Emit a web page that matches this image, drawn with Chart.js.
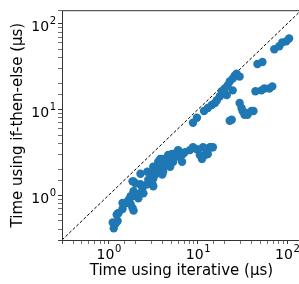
<!DOCTYPE html>
<html>
<head>
<meta charset="utf-8">
<script src="https://cdn.jsdelivr.net/npm/chart.js@4.4.1/dist/chart.umd.min.js"></script>
<style>
	html, body { margin: 0; padding: 0; background: #fff; overflow: hidden; }
	#wrap { width: 305px; height: 284px; }
</style>
</head>
<body>
<div id="wrap"><canvas id="timeChart" width="305" height="284"></canvas></div>
<script>
// Timings (microseconds)
const iterTimes = [
	1.14, 1.20, 1.11, 1.26, 1.23, 1.29, 1.43, 1.47, 1.59, 1.76, 1.85, 1.90,
	1.67, 1.85, 1.90, 2.10, 2.15, 2.27, 2.39, 2.45, 2.71, 2.78, 3.08, 3.16,
	3.33, 3.50, 3.16, 3.59, 3.98, 3.78, 4.08, 4.52, 4.30, 4.64, 5.14, 5.55,
	5.84, 6.31, 5.28, 4.89, 6.64, 6.00, 6.81, 7.17, 4.89, 1.90, 2.00, 3.08,
	3.16, 2.27, 3.98, 4.08, 8.15, 8.80, 9.75, 10.5, 11.1, 12.0, 12.6, 13.6,
	14.7, 12.9, 1.26, 1.43, 1.76, 1.85, 2.27, 2.71, 3.78, 4.89, 6.31, 11.4,
	14.3,
	8.80, 9.75, 22.7, 23.9, 11.7, 12.9, 14.3, 15.5, 16.3, 17.6, 19.0, 21.0,
	18.5, 20.0, 21.5, 22.7, 24.5, 25.8, 27.1, 29.3, 24.5, 29.3, 30.8, 31.6,
	33.3, 35.9, 39.8, 41.9, 35.0, 44.1, 51.4, 55.5, 63.1, 68.1, 46.4, 52.8,
	71.7, 81.5, 88.0, 97.5, 105
];
const ifElseTimes = [
	0.41, 0.47, 0.48, 0.50, 0.59, 0.62, 0.69, 0.79, 0.81, 0.79, 0.71, 0.66,
	0.88, 0.97, 1.11, 1.03, 0.92, 1.05, 1.20, 1.05, 1.34, 1.52, 1.37, 1.56,
	1.74, 1.98, 2.15, 2.45, 2.65, 2.26, 2.04, 2.26, 2.58, 2.94, 3.02, 2.79,
	3.18, 2.79, 2.45, 2.15, 2.45, 3.36, 3.02, 3.18, 2.58, 1.45, 1.37, 1.78,
	1.27, 1.34, 1.74, 1.88, 3.36, 3.63, 3.44, 2.94, 2.65, 2.94, 3.44, 3.63,
	3.63, 3.02, 0.61, 0.81, 0.97, 1.45, 1.78, 1.88, 2.65, 2.94, 3.02, 3.63,
	3.63,
	7.01, 8.00, 7.39, 7.59, 9.61, 10.4, 11.3, 11.9, 12.8, 14.3, 15.4, 14.7,
	16.3, 17.6, 19.1, 21.2, 22.9, 24.8, 26.1, 24.2, 16.7, 11.9, 10.4, 9.61,
	8.65, 8.65, 9.61, 9.61, 9.12, 16.3, 16.7, 17.6, 17.6, 18.6, 34.0, 35.8,
	50.5, 54.6, 60.7, 62.3, 67.4
];
// y = x reference line end points
const diagLine = [0.3, 150];

const scatterPts = iterTimes.map((x, i) => ({ x: x, y: ifElseTimes[i] }));
const diagPts = diagLine.map(v => ({ x: v, y: v }));

function decadeExp(value) {
	const e = Math.log10(value);
	if (Math.abs(e - Math.round(e)) > 1e-6) return null;
	return String(Math.round(e));
}

// matplotlib-style frame plus "10^n" tick labels with a real superscript
const framePlugin = {
	id: "frame",
	afterDraw(chart) {
		const a = chart.chartArea;
		const ctx = chart.ctx;
		ctx.save();
		ctx.strokeStyle = "#333";
		ctx.lineWidth = 1;
		ctx.strokeRect(a.left + 0.5, a.top + 0.5, a.right - a.left, a.bottom - a.top);

		const big = "14px 'DejaVu Sans'";
		const small = "10px 'DejaVu Sans'";
		ctx.fillStyle = "#000";
		ctx.textBaseline = "alphabetic";
		ctx.textAlign = "left";
		const measure = exp => {
			ctx.font = big;
			const w1 = ctx.measureText("10").width;
			ctx.font = small;
			const w2 = ctx.measureText(exp).width;
			return [w1, w2];
		};
		const put = (exp, x0, base) => {
			const [w1] = measure(exp);
			ctx.font = big;
			ctx.fillText("10", x0, base);
			ctx.font = small;
			ctx.fillText(exp, x0 + w1 + 0.5, base - 7);
		};
		const xs = chart.scales.x;
		xs.ticks.forEach(t => {
			const exp = decadeExp(t.value);
			if (exp === null) return;
			const px = xs.getPixelForValue(t.value);
			const [w1, w2] = measure(exp);
			put(exp, px - (w1 + w2) / 2, a.bottom + 19);
		});
		const ys = chart.scales.y;
		ys.ticks.forEach(t => {
			const exp = decadeExp(t.value);
			if (exp === null) return;
			const py = ys.getPixelForValue(t.value);
			const [w1, w2] = measure(exp);
			put(exp, a.left - 6 - (w1 + w2 + 0.5), py + 7.5);
		});
		ctx.restore();
	}
};

Chart.defaults.font.family = "'DejaVu Sans', sans-serif";
Chart.defaults.color = "#000";

const tickGrid = {
	drawOnChartArea: false,
	tickLength: 4,
	tickColor: "#333",
	tickWidth: c => (decadeExp(c.tick.value) !== null ? 1 : 0.7)
};

const ctx = document.getElementById("timeChart").getContext("2d");
new Chart(ctx, {
	type: "scatter",
	data: {
		datasets: [
			{
				data: scatterPts,
				backgroundColor: "#1f77b4",
				borderWidth: 0,
				pointRadius: 4.2,
				order: 0
			},
			{
				type: "line",
				data: diagPts,
				borderColor: "#000",
				borderWidth: 1,
				borderDash: [3, 2],
				pointRadius: 0,
				fill: false,
				order: 1
			}
		]
	},
	options: {
		responsive: false,
		devicePixelRatio: 1,
		animation: false,
		events: [],
		layout: { padding: { top: 5, right: 3, left: 0, bottom: 0 } },
		plugins: {
			legend: { display: false },
			tooltip: { enabled: false }
		},
		scales: {
			x: {
				type: "logarithmic",
				min: 0.306,
				max: 142,
				afterFit: s => { s.height = 44; },
				border: { display: false },
				grid: tickGrid,
				ticks: {
					autoSkip: false,
					maxRotation: 0,
					callback: () => ""
				},
				title: {
					display: true,
					text: "Time using iterative (μs)",
					font: { size: 15 },
					padding: { top: 0, bottom: 4 }
				}
			},
			y: {
				type: "logarithmic",
				min: 0.3,
				max: 144,
				afterFit: s => { s.width = 62; },
				border: { display: false },
				grid: tickGrid,
				ticks: {
					autoSkip: false,
					callback: () => ""
				},
				title: {
					display: true,
					text: "Time using if-then-else (μs)",
					font: { size: 15 },
					padding: { top: 9, bottom: 0 }
				}
			}
		}
	},
	plugins: [framePlugin]
});
</script>
</body>
</html>
